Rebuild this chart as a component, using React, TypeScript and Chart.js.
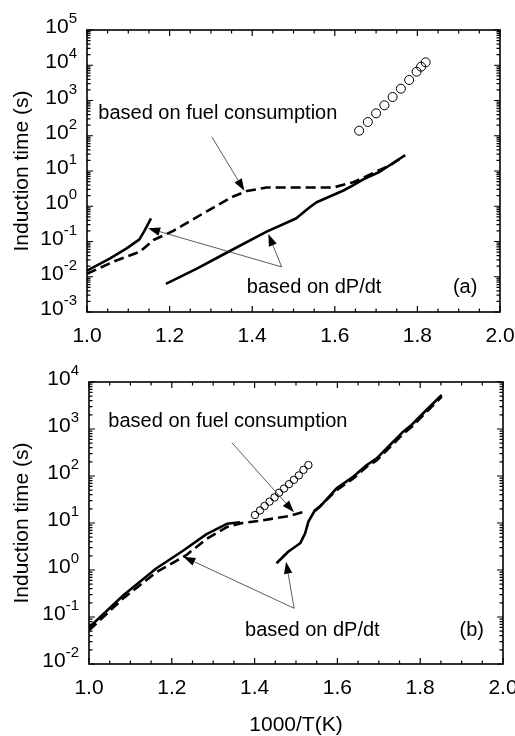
import React, { useEffect, useRef } from 'react';
import { Chart, registerables } from 'chart.js';

Chart.register(...registerables);

const FONT = '"Liberation Sans", Arial, Helvetica, sans-serif';

// ---------- shared axis data ----------
const X_TICK_VALUES = [1.0, 1.2, 1.4, 1.6, 1.8, 2.0];
const X_TICK_LABELS = ['1.0', '1.2', '1.4', '1.6', '1.8', '2.0'];
const X_TICK_MARKS = [1.0, 1.05, 1.1, 1.15, 1.2, 1.25, 1.3, 1.35, 1.4, 1.45, 1.5, 1.55, 1.6, 1.65, 1.7, 1.75, 1.8, 1.85, 1.9, 1.95, 2.0];
const LOG_MINOR = [2, 3, 4, 5, 6, 7, 8, 9];
const Y_TITLE = 'Induction time (s)';
const X_TITLE = '1000/T(K)';

// ---------- panel (a) ----------
const A_Y_TICKS = [1e-3, 1e-2, 1e-1, 1, 1e1, 1e2, 1e3, 1e4, 1e5];
const A_Y_EXPS = ['-3', '-2', '-1', '0', '1', '2', '3', '4', '5'];

const A_DPDT_LOW_X = [1.0, 1.056, 1.096, 1.127, 1.14, 1.155];
const A_DPDT_LOW_Y = [0.0149, 0.033, 0.064, 0.115, 0.21, 0.45];

const A_DPDT_HIGH_X = [1.191, 1.266, 1.338, 1.435, 1.506, 1.54, 1.556, 1.621, 1.645, 1.669, 1.709, 1.77];
const A_DPDT_HIGH_Y = [0.0063, 0.017, 0.048, 0.19, 0.45, 0.95, 1.3, 2.8, 4.0, 5.8, 9.5, 28];

const A_FUEL_X = [1.0, 1.068, 1.128, 1.161, 1.209, 1.29, 1.354, 1.387, 1.435, 1.516, 1.596, 1.645, 1.693, 1.734, 1.77];
const A_FUEL_Y = [0.0122, 0.028, 0.051, 0.11, 0.2, 0.72, 1.9, 2.7, 3.4, 3.4, 3.4, 4.8, 8.8, 14.5, 28];

const A_EXP_X = [1.659, 1.68, 1.7, 1.72, 1.74, 1.76, 1.78, 1.798, 1.809, 1.82];
const A_EXP_Y = [139, 245, 433, 731, 1256, 2163, 3820, 6560, 9100, 12100];

// ---------- panel (b) ----------
const B_Y_TICKS = [1e-2, 1e-1, 1, 1e1, 1e2, 1e3, 1e4];
const B_Y_EXPS = ['-2', '-1', '0', '1', '2', '3', '4'];

const B_DPDT_LOW_X = [1.0, 1.083, 1.163, 1.228, 1.284, 1.333, 1.365];
const B_DPDT_LOW_Y = [0.06, 0.29, 1.09, 2.6, 5.8, 9.6, 10.4];

const B_FUEL_LOW_X = [1.0, 1.083, 1.163, 1.236, 1.284, 1.333, 1.365, 1.413, 1.486, 1.526];
const B_FUEL_LOW_Y = [0.052, 0.25, 0.9, 2.1, 4.6, 8.2, 9.8, 11.2, 14.2, 18];

const B_DPDT_HIGH_X = [1.453, 1.481, 1.51, 1.522, 1.53, 1.546, 1.558, 1.598, 1.638, 1.671, 1.695, 1.727, 1.759, 1.779, 1.815, 1.852];
const B_DPDT_HIGH_Y = [1.39, 2.45, 3.7, 6.0, 10.7, 18.9, 22.2, 54.7, 96.6, 171, 238, 457, 877, 1216, 2535, 5280];

const B_FUEL_HIGH_X = [1.546, 1.598, 1.638, 1.671, 1.695, 1.727, 1.759, 1.779, 1.815, 1.852];
const B_FUEL_HIGH_Y = [18, 50, 88, 158, 215, 410, 790, 1100, 2300, 4900];

const B_EXP_X = [1.401, 1.413, 1.424, 1.436, 1.448, 1.459, 1.471, 1.483, 1.495, 1.507, 1.518, 1.53];
const B_EXP_Y = [14.8, 18.5, 23, 28.5, 35, 44, 54, 67, 83, 103, 135, 171];

type Pt = [number, number];

const zip = (xs: number[], ys: number[]) => xs.map((x, i) => ({ x, y: ys[i] }));

const lineSet = (xs: number[], ys: number[], dashed: boolean) => ({
  data: zip(xs, ys),
  borderColor: '#000',
  borderWidth: 2.6,
  borderDash: dashed ? [10, 5] : [],
  borderCapStyle: 'butt',
  borderJoinStyle: 'round',
  pointRadius: 0,
  fill: false,
  tension: 0,
  showLine: true,
});

const circleSet = (xs: number[], ys: number[], r: number) => ({
  data: zip(xs, ys),
  showLine: false,
  pointRadius: r,
  pointBorderWidth: 1,
  pointBorderColor: '#000',
  pointBackgroundColor: 'rgba(0,0,0,0)',
  borderColor: '#000',
});

interface PanelCfg {
  yTicks: number[];
  yExps: string[];
  datasets: any[];
  arrows: { from: Pt; to: Pt }[];
  notes: { text: string; at: Pt }[];
  top: number;
  right: number;
  yWidth: number;
  xHeight: number;
  xTitle?: string;
}

function makeDeco(cfg: PanelCfg) {
  return {
    id: 'deco',
    afterDraw(chart: any) {
      const { ctx, chartArea: a } = chart;
      const xs = chart.scales.x;
      const ys = chart.scales.y;
      ctx.save();
      ctx.strokeStyle = '#000';
      ctx.fillStyle = '#000';
      // inward tick marks
      ctx.lineWidth = 1.2;
      ctx.beginPath();
      X_TICK_MARKS.forEach((v, i) => {
        const px = xs.getPixelForValue(v);
        const len = i % 4 === 0 ? 6 : 3.5;
        ctx.moveTo(px, a.bottom);
        ctx.lineTo(px, a.bottom - len);
        ctx.moveTo(px, a.top);
        ctx.lineTo(px, a.top + len);
      });
      cfg.yTicks.forEach((d, i) => {
        const py = ys.getPixelForValue(d);
        ctx.moveTo(a.left, py);
        ctx.lineTo(a.left + 6, py);
        ctx.moveTo(a.right, py);
        ctx.lineTo(a.right - 6, py);
        if (i < cfg.yTicks.length - 1) {
          LOG_MINOR.forEach((m) => {
            const q = ys.getPixelForValue(d * m);
            ctx.moveTo(a.left, q);
            ctx.lineTo(a.left + 3.5, q);
            ctx.moveTo(a.right, q);
            ctx.lineTo(a.right - 3.5, q);
          });
        }
      });
      ctx.stroke();
      // frame
      ctx.lineWidth = 1.6;
      ctx.strokeRect(a.left, a.top, a.right - a.left, a.bottom - a.top);
      // y tick labels with superscripts
      cfg.yTicks.forEach((d, i) => {
        const py = ys.getPixelForValue(d);
        const right = a.left - 10;
        ctx.textBaseline = 'alphabetic';
        ctx.font = `15px ${FONT}`;
        const ew = ctx.measureText(cfg.yExps[i]).width;
        ctx.textAlign = 'left';
        ctx.fillText(cfg.yExps[i], right - ew, py - 7);
        ctx.font = `21px ${FONT}`;
        ctx.textAlign = 'right';
        ctx.fillText('10', right - ew, py + 3);
      });
      // arrows
      cfg.arrows.forEach(({ from, to }) => {
        const x1 = xs.getPixelForValue(from[0]);
        const y1 = ys.getPixelForValue(from[1]);
        const x2 = xs.getPixelForValue(to[0]);
        const y2 = ys.getPixelForValue(to[1]);
        const ang = Math.atan2(y2 - y1, x2 - x1);
        const L = 12;
        const W = 4.2;
        const c = Math.cos(ang);
        const s = Math.sin(ang);
        const bx = x2 - L * c;
        const by = y2 - L * s;
        ctx.lineWidth = 0.8;
        ctx.strokeStyle = '#333';
        ctx.beginPath();
        ctx.moveTo(x1, y1);
        ctx.lineTo(bx, by);
        ctx.stroke();
        ctx.beginPath();
        ctx.moveTo(x2, y2);
        ctx.lineTo(bx + W * s, by - W * c);
        ctx.lineTo(bx - W * s, by + W * c);
        ctx.closePath();
        ctx.fill();
      });
      // text notes
      ctx.font = `20px ${FONT}`;
      ctx.textAlign = 'left';
      ctx.textBaseline = 'middle';
      cfg.notes.forEach(({ text, at }) => {
        ctx.fillText(text, xs.getPixelForValue(at[0]), ys.getPixelForValue(at[1]));
      });
      ctx.restore();
    },
  };
}

function buildChart(canvas: HTMLCanvasElement, cfg: PanelCfg) {
  return new Chart(canvas, {
    type: 'line',
    data: { datasets: cfg.datasets },
    options: {
      animation: false,
      responsive: false,
      events: [],
      layout: { padding: { left: 0, right: cfg.right, top: cfg.top, bottom: 0 } },
      plugins: { legend: { display: false }, tooltip: { enabled: false } },
      scales: {
        x: {
          type: 'linear',
          min: 1,
          max: 2,
          afterBuildTicks: (s: any) => {
            s.ticks = X_TICK_VALUES.map((v) => ({ value: v }));
          },
          ticks: {
            callback: (_v: any, i: number) => X_TICK_LABELS[i],
            font: { size: 21, family: FONT },
            color: '#000',
            padding: 12,
            maxRotation: 0,
            autoSkip: false,
          },
          grid: { display: false, drawTicks: false },
          border: { display: false },
          title: cfg.xTitle
            ? {
                display: true,
                text: cfg.xTitle,
                color: '#000',
                font: { size: 21, family: FONT, lineHeight: 1 },
                padding: { top: 0, bottom: 0 },
              }
            : { display: false },
          afterFit: (s: any) => {
            s.height = cfg.xHeight;
            s.paddingLeft = 0;
            s.paddingRight = 0;
          },
        },
        y: {
          type: 'logarithmic',
          min: cfg.yTicks[0],
          max: cfg.yTicks[cfg.yTicks.length - 1],
          ticks: { display: false },
          grid: { display: false, drawTicks: false },
          border: { display: false },
          title: {
            display: true,
            text: Y_TITLE,
            color: '#000',
            font: { size: 21, family: FONT, lineHeight: 1.2 },
            padding: { top: 10, bottom: 0 },
          },
          afterFit: (s: any) => {
            s.width = cfg.yWidth;
            s.paddingTop = 0;
            s.paddingBottom = 0;
          },
        },
      },
    } as any,
    plugins: [makeDeco(cfg) as any],
  });
}

const PANEL_A: PanelCfg = {
  yTicks: A_Y_TICKS,
  yExps: A_Y_EXPS,
  datasets: [
    lineSet(A_DPDT_LOW_X, A_DPDT_LOW_Y, false),
    lineSet(A_DPDT_HIGH_X, A_DPDT_HIGH_Y, false),
    lineSet(A_FUEL_X, A_FUEL_Y, true),
    circleSet(A_EXP_X, A_EXP_Y, 4.5),
  ],
  arrows: [
    { from: [1.302, 94], to: [1.381, 2.76] },
    { from: [1.4714, 0.019], to: [1.148, 0.237] },
    { from: [1.4714, 0.019], to: [1.439, 0.163] },
  ],
  notes: [
    { text: 'based on fuel consumption', at: [1.0274, 433] },
    { text: 'based on dP/dt', at: [1.387, 0.0049] },
    { text: '(a)', at: [1.886, 0.0049] },
  ],
  top: 30,
  right: 15,
  yWidth: 87,
  xHeight: 48,
};

const PANEL_B: PanelCfg = {
  yTicks: B_Y_TICKS,
  yExps: B_Y_EXPS,
  datasets: [
    lineSet(B_DPDT_LOW_X, B_DPDT_LOW_Y, false),
    lineSet(B_DPDT_HIGH_X, B_DPDT_HIGH_Y, false),
    lineSet(B_FUEL_LOW_X, B_FUEL_LOW_Y, true),
    lineSet(B_FUEL_HIGH_X, B_FUEL_HIGH_Y, true),
    circleSet(B_EXP_X, B_EXP_Y, 3.7),
  ],
  arrows: [
    { from: [1.345, 512], to: [1.495, 17] },
    { from: [1.4955, 0.153], to: [1.228, 1.92] },
    { from: [1.4955, 0.153], to: [1.476, 1.5] },
  ],
  notes: [
    { text: 'based on fuel consumption', at: [1.0467, 1430] },
    { text: 'based on dP/dt', at: [1.377, 0.051] },
    { text: '(b)', at: [1.895, 0.051] },
  ],
  top: 22,
  right: 12,
  yWidth: 89,
  xHeight: 72,
  xTitle: X_TITLE,
};

export default function App() {
  const topRef = useRef<HTMLCanvasElement>(null);
  const botRef = useRef<HTMLCanvasElement>(null);

  useEffect(() => {
    Chart.defaults.font.family = FONT;
    Chart.defaults.color = '#000';
    const c1 = buildChart(topRef.current!, PANEL_A);
    const c2 = buildChart(botRef.current!, PANEL_B);
    return () => {
      c1.destroy();
      c2.destroy();
    };
  }, []);

  return (
    <div style={{ position: 'absolute', left: 0, top: 0, width: 515, height: 736, background: '#fff' }}>
      <canvas
        ref={topRef}
        width={515}
        height={360}
        style={{ position: 'absolute', left: 0, top: 0, width: 515, height: 360 }}
      />
      <canvas
        ref={botRef}
        width={515}
        height={376}
        style={{ position: 'absolute', left: 0, top: 360, width: 515, height: 376 }}
      />
    </div>
  );
}
